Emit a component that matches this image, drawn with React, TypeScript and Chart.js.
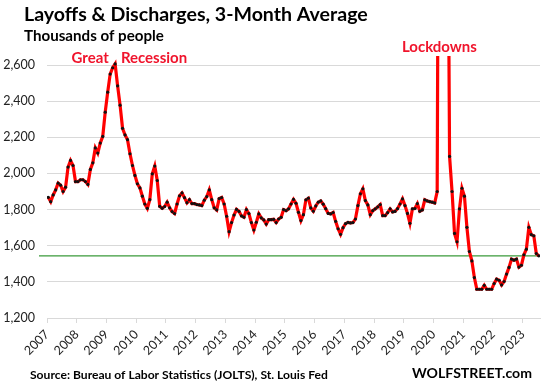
import React, { useEffect, useRef } from "react";
import { Chart, registerables } from "chart.js";

Chart.register(...registerables);

const title = "Layoffs & Discharges, 3-Month Average";
const subtitle = "Thousands of people";
const sourceText = "Source: Bureau of Labor Statistics (JOLTS), St. Louis Fed";
const brand = "WOLFSTREET.com";
const startYear = 2007;
const tickYears = [2007, 2008, 2009, 2010, 2011, 2012, 2013, 2014, 2015, 2016, 2017, 2018, 2019, 2020, 2021, 2022, 2023];
const yTicks = [1200, 1400, 1600, 1800, 2000, 2200, 2400, 2600];

const y2007 = [1868, 1844, 1881, 1909, 1946, 1935, 1900, 1924, 2035, 2072, 2044, 1955];
const y2008 = [1955, 1965, 1965, 1955, 1939, 2022, 2059, 2141, 2113, 2168, 2205, 2339];
const y2009 = [2450, 2550, 2585, 2606, 2485, 2378, 2250, 2213, 2187, 2109, 2044, 1989];
const y2010 = [1943, 1920, 1874, 1831, 1807, 1855, 1998, 2041, 1961, 1818, 1807, 1817];
const y2011 = [1841, 1810, 1789, 1778, 1831, 1876, 1892, 1866, 1838, 1855, 1833, 1833];
const y2012 = [1828, 1826, 1822, 1852, 1872, 1909, 1855, 1810, 1798, 1861, 1867, 1831];
const y2013 = [1763, 1678, 1728, 1770, 1801, 1790, 1765, 1758, 1800, 1778, 1728, 1687];
const y2014 = [1730, 1776, 1754, 1743, 1720, 1744, 1744, 1746, 1728, 1748, 1757, 1800];
const y2015 = [1794, 1804, 1831, 1856, 1835, 1785, 1739, 1772, 1854, 1863, 1809, 1791];
const y2016 = [1820, 1841, 1848, 1830, 1805, 1779, 1776, 1784, 1735, 1694, 1663, 1700];
const y2017 = [1722, 1729, 1726, 1728, 1748, 1822, 1887, 1915, 1850, 1826, 1772, 1794];
const y2018 = [1804, 1815, 1828, 1767, 1767, 1783, 1804, 1787, 1790, 1805, 1831, 1859];
const y2019 = [1822, 1779, 1724, 1804, 1806, 1833, 1791, 1798, 1854, 1848, 1844, 1841];
const y2020 = [1837, 1900, 5600, 8000, 8000, 4300, 2094, 1900, 1668, 1622, 1804, 1918];
const y2021 = [1874, 1702, 1568, 1516, 1424, 1359, 1359, 1359, 1381, 1359, 1359, 1359];
const y2022 = [1391, 1415, 1409, 1383, 1402, 1443, 1480, 1526, 1520, 1526, 1482, 1492];
const y2023 = [1550, 1581, 1702, 1661, 1655, 1557, 1544];

const yearly = [y2007, y2008, y2009, y2010, y2011, y2012, y2013, y2014, y2015, y2016, y2017, y2018, y2019, y2020, y2021, y2022, y2023];
const values: number[] = ([] as number[]).concat(...yearly);

const yMin = 1200;
const yMax = 2650;

const annotations = [
  { text: "Great", x: 2008.45, base: 63 },
  { text: "Recession", x: 2010.6, base: 63 },
  { text: "Lockdowns", x: 2020.2, base: 52 },
];

const FONT = "Lato, 'Open Sans', 'DejaVu Sans', sans-serif";
const RED = "#ff0000";

function fitSize(ctx: CanvasRenderingContext2D, text: string, weight: string, width: number) {
  ctx.font = `${weight} 100px ${FONT}`;
  const w = ctx.measureText(text).width;
  return (100 * width) / w;
}

const textPlugin = {
  id: "texts",
  beforeDatasetsDraw(chart: any) {
    const { ctx, chartArea, scales } = chart;
    const last = values[values.length - 1];
    const py = scales.y.getPixelForValue(last);
    ctx.save();
    ctx.strokeStyle = "#3a9a3a";
    ctx.lineWidth = 1.2;
    ctx.beginPath();
    ctx.moveTo(chartArea.left - 8, py);
    ctx.lineTo(chartArea.right, py);
    ctx.stroke();
    ctx.restore();
  },
  afterDraw(chart: any) {
    const { ctx, scales } = chart;
    ctx.save();
    ctx.textAlign = "left";
    ctx.textBaseline = "alphabetic";
    ctx.fillStyle = "#000";
    let s = fitSize(ctx, title, "bold", 344);
    ctx.font = `bold ${s}px ${FONT}`;
    ctx.fillText(title, 24, 21);
    s = fitSize(ctx, subtitle, "bold", 140);
    ctx.font = `bold ${s}px ${FONT}`;
    ctx.fillText(subtitle, 24, 41);
    s = fitSize(ctx, sourceText, "bold", 298);
    ctx.font = `bold ${s}px ${FONT}`;
    ctx.fillText(sourceText, 30, 379);
    s = fitSize(ctx, brand, "bold", 120);
    ctx.font = `bold ${s}px ${FONT}`;
    ctx.fillText(brand, 412, 378);

    ctx.fillStyle = "#f0142c";
    ctx.textAlign = "center";
    const annSize = fitSize(ctx, "Lockdowns", "bold", 75);
    ctx.font = `bold ${annSize}px ${FONT}`;
    annotations.forEach((a) => {
      const px = scales.x.getPixelForValue(a.x);
      ctx.fillText(a.text, px, a.base);
    });
    ctx.restore();
  },
};

export default function App() {
  const ref = useRef<HTMLCanvasElement | null>(null);
  useEffect(() => {
    if (!ref.current) return;
    const pts = values.map((v, i) => ({ x: startYear + (i + 0.5) / 12, y: v }));
    const xMax = startYear + values.length / 12;
    const chart = new Chart(ref.current, {
      type: "line",
      data: {
        datasets: [
          {
            data: pts,
            borderColor: RED,
            borderWidth: 3.2,
            pointRadius: 1.6,
            pointBackgroundColor: "#111",
            pointBorderWidth: 0,
            pointHoverRadius: 1.6,
            tension: 0,
          },
        ],
      },
      options: {
        responsive: false,
        animation: false,
        events: [],
        layout: { padding: { top: 56, right: 3, bottom: 0, left: 0 } },
        plugins: { legend: { display: false }, tooltip: { enabled: false }, title: { display: false } },
        scales: {
          x: {
            type: "linear",
            min: startYear,
            max: xMax,
            afterFit: (sc: any) => {
              sc.height = 70;
            },
            afterBuildTicks: (sc: any) => {
              sc.ticks = tickYears.map((v) => ({ value: v }));
            },
            ticks: {
              autoSkip: false,
              minRotation: 45,
              maxRotation: 45,
              padding: 4,
              color: "#222",
              font: { family: FONT, size: 12.5 },
              callback: (v: any) => String(v),
            },
            grid: { drawOnChartArea: false, drawTicks: true, tickLength: 5, color: "#d9d9d9" },
            border: { display: true, color: "#d9d9d9" },
          },
          y: {
            min: yMin,
            max: yMax,
            afterFit: (sc: any) => {
              sc.width = 47;
            },
            afterBuildTicks: (sc: any) => {
              sc.ticks = yTicks.map((v) => ({ value: v }));
            },
            ticks: {
              autoSkip: false,
              padding: 12,
              color: "#222",
              font: { family: FONT, size: 12.5 },
              callback: (v: any) => Number(v).toLocaleString("en-US"),
            },
            grid: { drawTicks: false, color: "#d9d9d9", lineWidth: 1 },
            border: { display: false },
          },
        },
      },
      plugins: [textPlugin],
    });
    return () => chart.destroy();
  }, []);
  return (
    <canvas
      ref={ref}
      width={543}
      height={388}
      style={{ position: "fixed", left: 0, top: 0, width: 543, height: 388, background: "#fff" }}
    />
  );
}
